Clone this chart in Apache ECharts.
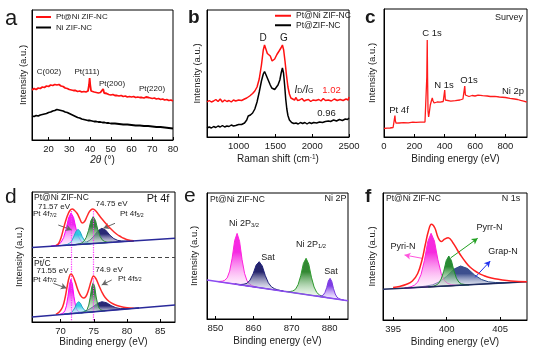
<!DOCTYPE html>
<html><head><meta charset="utf-8">
<script src="https://cdn.jsdelivr.net/npm/echarts/dist/echarts.min.js"></script>
<style>html,body{margin:0;padding:0;background:#fff}#c{width:535px;height:354px}</style>
</head><body><div id="c"></div>
<script>
// ---------- (a) XRD ----------
const xrdTicks = [20,30,40,50,60,70,80];
const xrdPtNi = [[12,50],[13,51.5],[14,50.5],[15,52],[16,51.5],[17,53],[18,52.5],[19,54],[20,53.5],[21,55],[22,54.5],[23,55.5],[24,55],[25,55.5],[26,54],[27,53.5],[28,52],[29,51.5],[30,50.5],[31,50],[32,49.5],[33,49.5],[34,48.5],[35,49],[36,48],[37,48.5],[38,48],[39,49],[39.5,55],[39.8,62],[40.1,55],[40.5,49],[41,48],[42,48],[43,47.5],[44,47],[45,47.5],[45.8,47],[46.3,51],[46.8,47],[47.5,46],[48,46.5],[49,45.5],[50,45],[51,45.5],[52,44.5],[53,44.5],[54,44],[55,44.5],[56,43.5],[57,44],[58,43],[59,43.5],[60,43],[61,43.5],[62,42.5],[63,43],[64,42.5],[65,42.5],[66,42],[67,43],[67.6,44],[68.2,42.5],[69,42],[70,41.5],[71,42],[72,41],[73,41.5],[74,40.5],[75,41],[76,40],[77,40.5],[78,39.5],[79,40],[80,39]];
const xrdNi = [[12,24],[13,23.5],[14,24.5],[15,24],[16,25],[17,25.5],[18,26],[19,26.5],[20,27.5],[21,28],[22,29],[23,29.5],[24,30.5],[25,30],[26,29.5],[27,29],[28,28],[29,27.5],[30,26.5],[31,25.5],[32,24.5],[33,23.5],[34,22.5],[35,22],[36,21],[37,20.5],[38,20],[39,19.5],[40,19.5],[41,19],[42,18.5],[43,18.5],[44,18],[45,18],[46,17.5],[47,17.5],[48,17],[49,17],[50,16.5],[52,16.5],[54,16],[56,15.5],[58,15.5],[60,15],[62,14.5],[64,14.5],[66,14],[68,14],[70,13.5],[72,13],[74,13],[76,12.5],[78,12],[80,11.5]];
// ---------- (b) Raman ----------
const ramanTicks = [1000,1500,2000,2500];
const ramanPtNi = [[570,35],[600,36.5],[630,35],[660,36],[690,37.5],[720,35.5],[750,38],[780,35],[810,37],[840,35.5],[870,36.5],[900,35],[930,37],[960,36],[1000,37],[1040,36.5],[1080,38],[1110,39],[1150,41],[1190,43.5],[1220,46],[1250,50],[1280,58],[1310,72],[1335,87],[1352,92],[1370,88],[1390,83.5],[1410,85],[1430,81],[1455,76],[1470,75.5],[1490,78],[1520,82.5],[1550,86],[1575,89],[1595,92],[1612,87],[1630,76],[1650,62],[1670,50],[1690,43],[1710,39],[1730,37.5],[1760,37],[1780,39.5],[1800,36.5],[1830,37],[1860,38.5],[1890,36],[1920,37],[1950,37.5],[1980,35.5],[2010,37],[2050,36.5],[2090,37.5],[2120,36],[2150,38.5],[2180,36.5],[2220,37],[2260,36],[2300,38],[2340,36.5],[2380,37.5],[2420,36.5],[2460,38],[2490,37],[2500,40]];
const ramanPt = [[570,9],[600,10],[630,9],[660,10.5],[690,9.5],[720,11],[750,10],[780,11.5],[810,10],[840,11],[870,10.5],[900,12],[930,11],[960,11.5],[1000,12.5],[1040,12.5],[1080,14],[1110,17],[1130,21],[1160,22],[1190,24],[1220,28],[1250,35],[1280,45],[1310,56],[1335,63],[1352,65.5],[1370,62.5],[1390,59],[1410,55.5],[1430,52],[1450,49],[1470,47],[1490,47.5],[1510,49],[1535,52],[1560,57],[1578,64],[1595,69],[1610,64],[1625,52],[1640,38],[1655,28],[1670,21.5],[1690,17],[1720,14.5],[1750,13.5],[1780,14],[1810,13],[1840,14.5],[1870,13.5],[1900,14.5],[1930,13],[1960,14.5],[1990,13.5],[2020,14.5],[2060,14],[2100,15],[2140,14.5],[2180,15.5],[2220,16],[2235,18],[2250,15.5],[2290,17],[2330,16],[2370,17.5],[2410,16.5],[2450,18],[2480,17.5],[2500,19]];
// ---------- (c) Survey ----------
const surveyTicks = [0,200,400,600,800];
const survey = [[0,8.5],[20,8.8],[40,9],[60,9.5],[68,10.5],[72,21.5],[75,16],[80,13.8],[100,14],[130,14.3],[160,14.2],[190,14.8],[200,15.5],[210,14.6],[240,14.8],[270,15],[280,16],[282,60],[284.8,97],[287,60],[290,26],[294,20],[298,24],[305,32],[312,36],[318,39],[322,36.5],[330,34],[350,35],[370,34.8],[390,35.5],[396,37],[400,47],[404,37],[410,35.5],[440,35.8],[470,36.3],[500,37],[520,38],[528,40],[532,51],[536,42],[545,40],[560,40.5],[580,41.5],[600,41],[620,41.8],[650,41.3],[680,41],[700,40.5],[730,40.6],[760,40],[800,39.5],[830,38.7],[860,38],[880,37.5],[900,36.6],[920,35.8],[940,35]];
// ---------- (d) Pt 4f ----------
const pt4fTicks = [70,75,80,85];
const pt4fUpBase = [[65.7,74.6],[87.2,83.8]];
const pt4fUpEnv = [[69.3,76.3],[69.7,78.5],[70.1,85],[70.5,95],[71.0,106],[71.4,111.5],[71.75,113],[72.1,111.5],[72.5,108.5],[72.9,103],[73.25,99],[73.6,100.5],[74.0,106],[74.4,111],[74.85,113],[75.3,111],[75.7,107.5],[76.1,104],[76.6,100],[77.0,97],[77.5,93.5],[78.0,90.3],[78.5,87.5],[79.0,85.5],[79.5,83.7],[80.2,82],[81.0,81.3]];
const pt4fUp72 = [[68.57,75.8],[69.32,76.7],[69.7,77.7],[70.07,79.6],[70.45,84.3],[70.82,92.8],[71.2,104.1],[71.57,109.1],[71.95,104.5],[72.32,93.4],[72.7,85.3],[73.07,80.9],[73.45,79.3],[73.82,78.7],[74.57,78.4]];
const pt4fUp72ox = [[70.0,76.4],[70.65,77.0],[70.98,77.5],[71.3,78.5],[71.63,80.7],[71.95,84.9],[72.28,90.3],[72.6,92.7],[72.93,90.6],[73.25,85.4],[73.58,81.5],[73.9,79.6],[74.23,78.9],[74.55,78.7],[75.2,78.6]];
const pt4fUp75 = [[72.1,77.3],[72.8,78.1],[73.15,79.0],[73.5,80.6],[73.85,84.5],[74.2,91.6],[74.55,101.2],[74.9,105.3],[75.25,101.5],[75.6,92.2],[75.95,85.4],[76.3,81.8],[76.65,80.5],[77.0,79.9],[77.7,79.7]];
const pt4fUp76ox = [[71.4,77.0],[72.6,77.8],[73.2,78.5],[73.8,79.6],[74.4,81.8],[75.0,85.9],[75.6,91.2],[76.2,93.7],[76.8,91.8],[77.4,86.9],[78.0,83.4],[78.6,81.6],[79.2,81.1],[79.8,80.9],[81.0,81.1]];
const pt4fLoBase = [[65.7,5.1],[87.2,17.1]];
const pt4fLoEnv = [[69.3,7.6],[69.8,10],[70.3,15],[70.7,25],[71.0,36],[71.3,45],[71.55,48],[71.85,46],[72.2,40],[72.6,32],[73.0,26.5],[73.4,24],[73.8,25.5],[74.2,32],[74.6,41],[74.95,46],[75.3,43.5],[75.7,37.5],[76.2,30],[76.7,24.5],[77.3,20.5],[78.0,17.8],[79.0,15.5],[80.0,14.2],[81.0,13.7]];
const pt4fLo72 = [[69.75,7.4],[70.2,8.3],[70.43,9.3],[70.65,11.3],[70.88,16.2],[71.1,25.3],[71.33,37.5],[71.55,42.7],[71.78,37.7],[72.0,25.8],[72.23,17.0],[72.45,12.3],[72.68,10.5],[72.9,9.8],[73.35,9.4]];
const pt4fLo72ox = [[70.5,7.8],[71.05,8.3],[71.33,8.8],[71.6,9.5],[71.88,11.3],[72.15,14.4],[72.43,18.5],[72.7,20.3],[72.98,18.8],[73.25,15.0],[73.53,12.2],[73.8,10.7],[74.08,10.3],[74.35,10.1],[74.9,10.2]];
const pt4fLo75 = [[73.1,9.2],[73.55,10.1],[73.78,10.9],[74.0,12.7],[74.23,16.9],[74.45,24.5],[74.68,34.8],[74.9,39.3],[75.13,35.1],[75.35,25.0],[75.58,17.6],[75.8,13.7],[76.03,12.2],[76.25,11.6],[76.7,11.3]];
const pt4fLo76ox = [[70.6,7.9],[72.0,8.8],[72.7,9.4],[73.4,10.3],[74.1,12.0],[74.8,14.9],[75.5,18.5],[76.2,20.3],[76.9,19.3],[77.6,16.4],[78.3,14.3],[79.0,13.4],[79.7,13.3],[80.4,13.5],[81.8,14.1]];
// ---------- (e) Ni 2p ----------
const ni2pTicks = [850,860,870,880];
const ni2pBase = [[847.8,39],[884.8,18.3]];
const ni2p32 = [[850.5,37.5],[851.8,37.8],[852.45,38.7],[853.1,41.1],[853.75,47.9],[854.4,60.8],[855.05,78.3],[855.7,85.6],[856.35,77.6],[857.0,59.4],[857.65,45.7],[858.3,38.2],[858.95,35.1],[859.6,33.4],[860.9,31.7]];
const ni2pSat1 = [[855.1,34.9],[856.7,34.5],[857.5,34.8],[858.3,35.7],[859.1,38.9],[859.9,45.2],[860.7,53.9],[861.5,57.3],[862.3,53.0],[863.1,43.4],[863.9,36.2],[864.7,32.2],[865.5,30.3],[866.3,29.2],[867.9,27.8]];
const ni2p12 = [[868.2,27.6],[869.6,27.5],[870.3,28.0],[871.0,29.6],[871.7,34.3],[872.4,43.3],[873.1,55.6],[873.8,60.7],[874.5,54.9],[875.2,41.8],[875.9,32.0],[876.6,26.5],[877.3,24.1],[878.0,22.8],[879.4,21.3]];
const ni2pSat2 = [[876.5,22.9],[877.4,22.8],[877.85,23.1],[878.3,23.9],[878.75,26.5],[879.2,31.3],[879.65,38.0],[880.1,40.7],[880.55,37.5],[881.0,30.3],[881.45,25.0],[881.9,21.9],[882.35,20.6],[882.8,19.8],[883.7,18.9]];
// ---------- (f) N 1s ----------
const n1sTicks = [395,400,405];
const n1sBase = [[394.06,30.7],[407.5,38.3]];
const n1sEnv = [[395.0,32.5],[395.6,33.6],[396.2,35.5],[396.8,39],[397.3,46.5],[397.7,60],[398.0,75],[398.3,89],[398.58,95.7],[398.9,92],[399.2,82.5],[399.5,78.5],[399.8,80.8],[400.15,82.3],[400.6,77],[401.0,70],[401.4,63.3],[401.8,57.5],[402.2,52.7],[402.6,49.3],[403.0,46.7],[403.5,44.3],[403.9,42.7],[404.5,41.2],[405.2,40],[406.0,39],[406.7,38.5],[407.5,38.3]];
const n1sPyri = [[396.05,31.8],[396.68,33.3],[396.99,34.8],[397.3,37.9],[397.61,45.5],[397.93,59.7],[398.24,78.5],[398.55,86.7],[398.86,78.9],[399.18,60.4],[399.49,46.6],[399.8,39.3],[400.11,36.5],[400.43,35.4],[401.05,34.6]];
const n1sPyrr = [[398.3,33.0],[398.78,33.9],[399.01,34.8],[399.25,36.6],[399.49,41.0],[399.73,48.8],[399.96,59.3],[400.2,64.0],[400.44,59.6],[400.68,49.3],[400.91,41.8],[401.15,37.7],[401.39,36.1],[401.63,35.6],[402.1,35.2]];
const n1sGrap = [[396.1,31.9],[397.4,33.0],[398.05,33.9],[398.7,35.2],[399.35,38.3],[400.0,43.7],[400.65,50.7],[401.3,54.0],[401.95,51.5],[402.6,45.1],[403.25,40.5],[403.9,38.2],[404.55,37.5],[405.2,37.4],[406.5,37.7]];

// ---------- chart ----------
const FONT = 'Liberation Sans, Arial, Helvetica, sans-serif';
const TXT = '#1a1a1a';
const grids = [
  {left:32, top:10, width:141, height:130},
  {left:207, top:10, width:142, height:127},
  {left:384, top:9, width:143, height:128},
  {left:32, top:192, width:143, height:130},
  {left:207, top:193, width:141, height:126},
  {left:383, top:193, width:144, height:127}
].map(g => Object.assign({show:true, borderColor:'#000', borderWidth:1, backgroundColor:'transparent'}, g));

function xAx(i, min, max, ticks, name, gap, rich){
  return {gridIndex:i, type:'value', min, max, name, nameLocation:'middle', nameGap:gap,
    nameTextStyle:{fontFamily:FONT, fontSize:10, color:TXT, rich: rich || {}},
    axisLine:{show:true, lineStyle:{color:'#000', width:1}},
    axisTick:{show:true, inside:true, length:3, customValues:ticks, lineStyle:{color:'#000'}},
    axisLabel:{customValues:ticks, fontFamily:FONT, fontSize:9.5, color:TXT, margin:4, formatter:v => String(v)},
    splitLine:{show:false}};
}
function yAx(i, max, gap){
  return {gridIndex:i, type:'value', min:0, max, name:'Intensity (a.u.)', nameLocation:'middle', nameGap:gap,
    nameTextStyle:{fontFamily:FONT, fontSize:9.5, color:TXT},
    axisLine:{show:true, lineStyle:{color:'#000'}}, axisTick:{show:false}, axisLabel:{show:false}, splitLine:{show:false}};
}
const xAxes = [
  xAx(0, 12, 80, xrdTicks, '{i|2θ} (°)', 15, {i:{fontStyle:'italic', fontFamily:FONT, fontSize:10, color:TXT}}),
  xAx(1, 570, 2500, ramanTicks, 'Raman shift (cm{s|-1})', 17, {s:{fontSize:6.5, verticalAlign:'top', fontFamily:FONT, color:TXT}}),
  xAx(2, 0, 942, surveyTicks, 'Binding energy (eV)', 17),
  xAx(3, 65.7, 87.2, pt4fTicks, 'Binding energy (eV)', 14.5),
  xAx(4, 847.8, 884.8, ni2pTicks, 'Binding energy (eV)', 17),
  xAx(5, 394.06, 407.5, n1sTicks, 'Binding energy (eV)', 17)
];
const yAxes = [yAx(0,130,4), yAx(1,127,5), yAx(2,128,7), yAx(3,130,8), yAx(4,126,8), yAx(5,127,6)];

function line(name, g, data, color, w, extra){
  return Object.assign({type:'line', name, xAxisIndex:g, yAxisIndex:g, data, showSymbol:false, symbol:'none',
    lineStyle:{color, width:w}, itemStyle:{color}, silent:true, animation:false, z:5}, extra||{});
}
function peak(g, pts, top, bottom, stroke, z){
  return {type:'custom', xAxisIndex:g, yAxisIndex:g, data:pts, encode:{x:0, y:1}, silent:true, animation:false, z:z||3,
    renderItem:function(params, api){
      if (params.dataIndex !== 0) return null;
      const p = pts.map(d => api.coord(d));
      return {type:'polygon', shape:{points:p},
        style:{fill:new echarts.graphic.LinearGradient(0,0,0,1,[{offset:0,color:top},{offset:0.35,color:top},{offset:1,color:bottom}]),
               stroke:stroke, lineWidth:1}};
    }};
}
function arrows(list){
  return {silent:true, animation:false, symbol:['none','arrow'], symbolSize:[5,6], label:{show:false},
    lineStyle:{type:'solid', width:1},
    data:list.map(a => [{coord:a.from, lineStyle:{color:a.color, width:1, type:'solid'}, itemStyle:{color:a.head||a.color}}, {coord:a.to, itemStyle:{color:a.head||a.color}}])};
}

const series = [
  line('Pt@Ni ZIF-NC', 0, xrdPtNi, '#ff1010', 1.8),
  line('Ni ZIF-NC', 0, xrdNi, '#000', 1.8),
  line('Pt@Ni ZIF-NC', 1, ramanPtNi, '#ff1010', 1.5),
  line('Pt@ZIF-NC', 1, ramanPt, '#000', 1.5),
  line('survey', 2, survey, '#ff1a1a', 1.3),
  // d upper
  peak(3, pt4fUp72, 'rgba(235,30,235,0.95)', 'rgba(255,225,255,0.35)', '#ff00ff', 3),
  peak(3, pt4fUp76ox, 'rgba(30,30,110,0.95)', 'rgba(225,225,240,0.35)', '#25257a', 3),
  peak(3, pt4fUp72ox, 'rgba(40,200,225,0.95)', 'rgba(225,250,255,0.35)', '#20a8c8', 4),
  peak(3, pt4fUp75, 'rgba(40,120,50,0.95)', 'rgba(230,250,230,0.35)', '#2c8c3a', 4),
  // d lower
  peak(3, pt4fLo72, 'rgba(235,30,235,0.95)', 'rgba(255,225,255,0.35)', '#ff00ff', 3),
  peak(3, pt4fLo76ox, 'rgba(30,30,110,0.95)', 'rgba(225,225,240,0.35)', '#25257a', 3),
  peak(3, pt4fLo72ox, 'rgba(40,200,225,0.95)', 'rgba(225,250,255,0.35)', '#20a8c8', 4),
  peak(3, pt4fLo75, 'rgba(40,120,50,0.95)', 'rgba(230,250,230,0.35)', '#2c8c3a', 4),
  line('env-up', 3, pt4fUpEnv, '#ff2a2a', 1.5, {smooth:0.4, z:6}),
  line('env-lo', 3, pt4fLoEnv, '#ff2a2a', 1.5, {smooth:0.4, z:6}),
  line('base-up', 3, pt4fUpBase, '#2a2a9a', 1.5, {z:7,
    markLine:{silent:true, animation:false, symbol:['none','none'], label:{show:false},
      data:[
        [{coord:[71.6,111], lineStyle:{color:'#ff33ff', type:'dotted', width:1.2}},{coord:[71.6,1]}],
        [{coord:[74.85,111], lineStyle:{color:'#ff33ff', type:'dotted', width:1.2}},{coord:[74.85,1]}],
        [{coord:[65.7,65.2], lineStyle:{color:'#444', type:[4,3], width:1}},{coord:[87.2,65.2]}]
      ]}}),
  line('base-lo', 3, pt4fLoBase, '#2a2a9a', 1.5, {z:7,
    markLine:arrows([
      {from:[69.65,97], to:[71.67,92], color:'#666', head:'#666'},
      {from:[78.18,98.7], to:[76.42,93.7], color:'#666', head:'#000'},
      {from:[68.9,38.7], to:[70.92,33.7], color:'#666', head:'#666'},
      {from:[77.68,42], to:[76.18,37], color:'#666', head:'#000'}
    ])}),
  // e
  peak(4, ni2p32, 'rgba(245,30,225,0.95)', 'rgba(255,230,250,0.35)', '#ff22dd', 3),
  peak(4, ni2pSat1, 'rgba(25,25,100,0.95)', 'rgba(225,225,245,0.35)', '#20207a', 3),
  peak(4, ni2p12, 'rgba(40,130,40,0.95)', 'rgba(230,250,230,0.35)', '#2e9a2e', 3),
  peak(4, ni2pSat2, 'rgba(120,50,230,0.95)', 'rgba(238,230,255,0.35)', '#7a3ae0', 3),
  line('base-e', 4, ni2pBase, '#8a4cf0', 1.4, {z:6}),
  // f
  peak(5, n1sGrap, 'rgba(40,60,130,0.9)', 'rgba(230,236,250,0.35)', '#2d4a8a', 3),
  peak(5, n1sPyri, 'rgba(245,30,220,0.95)', 'rgba(255,230,250,0.35)', '#ff22dd', 4),
  peak(5, n1sPyrr, 'rgba(30,130,40,0.95)', 'rgba(230,250,230,0.35)', '#1f8f2f', 4),
  line('base-f', 5, n1sBase, '#1e2a5e', 1.4, {z:6,
    markLine:arrows([
      {from:[397.7,61.7], to:[396.07,65], color:'#ff55dd'},
      {from:[400.4,62.3], to:[402.9,81.7], color:'#22a022'},
      {from:[402.66,42.7], to:[404.07,59], color:'#2233ee'}
    ])}),
  line('env-f', 5, n1sEnv, '#ff2020', 1.5, {smooth:0.4, z:7})
];

function T(x, y, text, size, opt){
  opt = opt || {};
  return {type:'text', x, y, silent:true, z:100,
    style:{text, fontFamily:FONT, fontSize:size, fill:opt.color||TXT, fontWeight:opt.bold?'bold':'normal',
      align:opt.align||'center', verticalAlign:'middle', rich:opt.rich||undefined}};
}
const subRich = s => ({n:{fontFamily:FONT, fontSize:s, fill:TXT, color:TXT}, s:{fontFamily:FONT, fontSize:s*0.65, color:TXT, verticalAlign:'bottom', lineHeight:s*0.9}});
const graphic = [
  T(5,19,'a',22,{align:'left'}), T(188,18,'b',19,{align:'left', bold:true}), T(365,18,'c',19,{align:'left', bold:true}),
  T(5,197,'d',21,{align:'left'}), T(184,196,'e',21,{align:'left'}), T(365,197,'f',19,{align:'left', bold:true}),
  // a
  T(49,72,'C(002)',8), T(87,72,'Pt(111)',8), T(112,84,'Pt(200)',8), T(152,89,'Pt(220)',8),
  // b
  T(263,38,'D',10), T(284,38,'G',10),
  T(304,90,'{i|I}{s|D}{i|/I}{s|G}',9,{rich:{i:{fontStyle:'italic', fontFamily:FONT, fontSize:10, color:TXT}, s:{fontFamily:FONT, fontSize:7, color:TXT, verticalAlign:'bottom', lineHeight:9}}}),
  T(331.5,90,'1.02',9.5,{color:'#ff2020'}), T(326.5,113,'0.96',9.5),
  // c
  T(509,18,'Survey',9), T(432,33,'C 1s',9.5), T(444,85,'N 1s',9.5), T(469,80,'O1s',9.5), T(513,91,'Ni 2p',9.5), T(399,110,'Pt 4f',9.5),
  // d
  T(34,197.5,'Pt@Ni ZIF-NC',8.5,{align:'left'}), T(158,198.5,'Pt 4f',11),
  T(54,206.5,'71.57 eV',8), T(111.5,204,'74.75 eV',8),
  T(33,214,'{n|Pt 4f}{s|7/2}',8,{align:'left', rich:subRich(8)}),
  T(120,214,'{n|Pt 4f}{s|5/2}',8,{align:'left', rich:subRich(8)}),
  T(34,263.5,'Pt/C',8.5,{align:'left'}),
  T(52.5,271,'71.55 eV',8), T(109,270,'74.9 eV',8),
  T(33,279.5,'{n|Pt 4f}{s|7/2}',8,{align:'left', rich:subRich(8)}),
  T(118,278.5,'{n|Pt 4f}{s|5/2}',8,{align:'left', rich:subRich(8)}),
  // e
  T(210,199.5,'Pt@Ni ZIF-NC',8.5,{align:'left'}), T(335.5,199,'Ni 2P',9),
  T(244,223.5,'{n|Ni 2P}{s|3/2}',9,{rich:subRich(9)}), T(268,257.5,'Sat',9),
  T(311,244.5,'{n|Ni 2P}{s|1/2}',9,{rich:subRich(9)}), T(331,271.5,'Sat',9),
  // f
  T(386,199,'Pt@Ni ZIF-NC',8.5,{align:'left'}), T(511,199,'N 1s',9),
  T(403,246.5,'Pyri-N',9), T(489.5,227.5,'Pyrr-N',9), T(503,251.5,'Grap-N',9)
];

const chart = echarts.init(document.getElementById('c'), null, {renderer:'canvas'});
chart.setOption({
  animation:false,
  backgroundColor:'#fff',
  grid:grids, xAxis:xAxes, yAxis:yAxes, series, graphic,
  legend:[
    {data:['Pt@Ni ZIF-NC','Ni ZIF-NC'], orient:'vertical', left:36, top:12, itemWidth:15, itemHeight:2, itemGap:0.5, icon:'rect', padding:0, selectedMode:false,
      textStyle:{fontFamily:FONT, fontSize:8, color:TXT, lineHeight:10}},
    {data:['Pt@Ni ZIF-NC','Pt@ZIF-NC'], orient:'vertical', left:275, top:11, itemWidth:16, itemHeight:2, itemGap:0, icon:'rect', padding:0, selectedMode:false,
      textStyle:{fontFamily:FONT, fontSize:8.5, color:TXT, lineHeight:9.5}}
  ]
});
</script></body></html>
